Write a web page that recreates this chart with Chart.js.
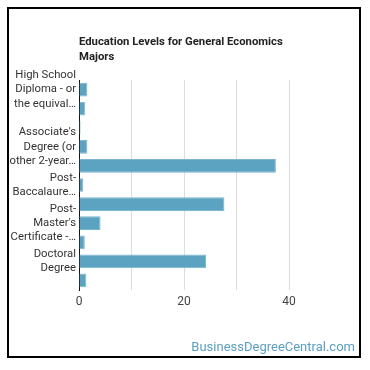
<!DOCTYPE html>
<html>
<head>
<meta charset="utf-8">
<script src="https://cdn.jsdelivr.net/npm/chart.js@4"></script>
<style>
  html, body { margin: 0; padding: 0; background: #fff; }
  #wrap { position: relative; width: 370px; height: 370px; font-family: Roboto, sans-serif; }
  #frame { position: absolute; left: 7px; top: 7px; width: 354px; height: 351px; border: 2px solid #000; box-sizing: border-box; pointer-events: none; }
  #title { position: absolute; left: 79px; top: 35px; font-size: 11.3px; font-weight: bold; line-height: 14.5px; color: #222; }
  #credit { position: absolute; right: 15px; top: 339px; font-size: 13px; color: #5b9fc2; }
  canvas { position: absolute; left: 0; top: 0; }
</style>
</head>
<body>
<div id="wrap">
  <canvas id="chart" width="370" height="370"></canvas>
  <div id="title">Education Levels for General Economics<br>Majors</div>
  <div id="credit">BusinessDegreeCentral.com</div>
  <div id="frame"></div>
</div>
<script>
const categories = [
    "High School Diploma - or the equivalent",
    "Post-Secondary Certificate",
    "Some College Courses",
    "Associate's Degree (or other 2-year degree)",
    "Bachelor's Degree",
    "Post-Baccalaureate Certificate",
    "Master's Degree",
    "Post-Master's Certificate",
    "First Professional Degree",
    "Doctoral Degree",
    "Post-Doctoral Training"
];
const tickLabels = [
    ["High School", "Diploma - or", "the equival\u2026"],
    "",
    "",
    ["Associate's", "Degree (or", "other 2-year\u2026"],
    "",
    ["Post-", "Baccalaure\u2026"],
    "",
    ["Post-", "Master's", "Certificate -\u2026"],
    "",
    ["Doctoral", "Degree"],
    ""
];
const percentages = [1.6, 1.2, 0.3, 1.6, 37.5, 0.8, 27.7, 4.1, 1.1, 24.2, 1.4];

const ctx = document.getElementById('chart').getContext('2d');
new Chart(ctx, {
    type: 'bar',
    data: {
        labels: categories,
        datasets: [{
            data: percentages,
            backgroundColor: '#5ba3c0',
            borderColor: '#7ab6cf',
            borderWidth: 1
        }]
    },
    options: {
        indexAxis: 'y',
        responsive: false,
        animation: false,
        layout: { padding: { left: 0, top: 80, right: 28.5, bottom: 60 } },
        plugins: { legend: { display: false }, title: { display: false }, tooltip: { enabled: false } },
        scales: {
            x: {
                min: 0, max: 50,
                afterFit: (s) => { s.height = 20; },
                border: { display: false },
                grid: {
                    drawTicks: false,
                    color: (c) => (c.tick && c.tick.value % 10 === 0 && c.tick.value < 50 && c.tick.value > 0) ? '#dddddd' : 'transparent'
                },
                ticks: {
                    stepSize: 10, padding: 5, color: '#444',
                    font: { family: 'Roboto', size: 12 },
                    callback: (v) => v % 20 === 0 && v < 50 ? v : ''
                }
            },
            y: {
                afterFit: (s) => { s.width = 79; },
                border: { display: true, color: '#111', width: 1 },
                grid: { display: false, drawTicks: false },
                ticks: {
                    autoSkip: false, padding: 3, color: '#333',
                    font: { family: 'Roboto', size: 11.3, lineHeight: 1.28 },
                    callback: (v, i) => tickLabels[i]
                }
            }
        }
    }
});
</script>
</body>
</html>
